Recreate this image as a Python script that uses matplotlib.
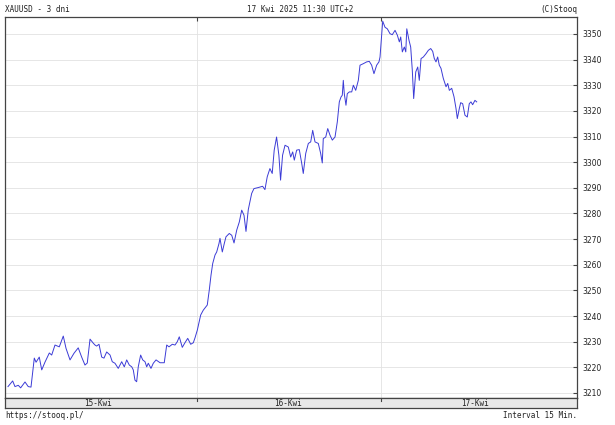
import matplotlib
matplotlib.use("Agg")
import matplotlib.pyplot as plt

# Czas w godzinach od 15 Kwi 00:00, kurs XAUUSD (interwał ~15 min)
godz_15 = [-0.65, -0.04, 0.26, 0.69, 1.0, 1.57, 1.99, 2.35, 2.78, 3.01, 3.43, 3.75, 4.17, 4.74,
           5.05, 5.48, 6.04, 6.56, 6.92, 7.44, 7.96, 8.51, 8.96, 9.39, 9.69, 10.05, 10.48,
           10.7, 10.91, 11.22, 11.57, 11.87, 12.22, 12.66, 12.95, 13.3, 13.73, 14.18, 14.52,
           14.83, 15.17, 15.49, 15.69, 15.91, 16.13, 16.34, 16.65, 16.92, 17.22, 17.44, 17.65,
           18.0, 18.3, 18.66, 19.18, 19.73, 20.05, 20.35, 20.78, 21.13, 21.43, 21.69, 22.08,
           22.43, 22.79, 23.18, 23.52, 23.74]
kurs_15 = [3212.5, 3214.7, 3212.5, 3213, 3212, 3214.3, 3212.5, 3212.3, 3223.6, 3222, 3224,
           3219, 3222, 3225.6, 3224.8, 3228.7, 3228, 3232.2, 3227.4, 3222.9, 3225.5, 3227.6,
           3224, 3220.9, 3221.7, 3231, 3229.4, 3228.7, 3228.3, 3229, 3224, 3223.6, 3226,
           3224.8, 3222.2, 3221.6, 3219.6, 3222.2, 3220.2, 3222.9, 3220.9, 3220.2, 3219, 3215,
           3214.4, 3220.2, 3224.8, 3222.9, 3222.2, 3220.2, 3221.6, 3219.6, 3221.6, 3222.9,
           3221.8, 3221.8, 3228.7, 3228, 3229, 3228.7, 3230, 3231.9, 3227.8, 3229.6, 3231.3,
           3229, 3229.6, 3231.5]

godz_16 = [24.04, 24.48, 24.82, 25.34, 25.6, 25.83, 26.05, 26.35, 26.57, 26.87, 27.0, 27.3,
           27.56, 27.78, 28.21, 28.53, 28.83, 29.18, 29.52, 29.83, 30.13, 30.39, 30.69, 31.13,
           31.43, 31.99, 32.56, 32.86, 33.16, 33.51, 33.81, 34.07, 34.38, 34.68, 34.9, 35.16,
           35.48, 35.91, 36.22, 36.48, 36.69, 37.0, 37.34, 37.66, 37.86, 38.18, 38.52, 38.83,
           39.09, 39.39, 39.82, 40.13, 40.34, 40.47, 40.79, 41.05, 41.35, 41.65, 42.0, 42.3,
           42.56, 42.78, 42.95, 43.08, 43.21, 43.43, 43.6, 43.87, 44.18, 44.39, 44.7, 45.04,
           45.26, 45.69, 46.13, 46.47, 46.78, 47.08, 47.43, 47.73, 47.87]
kurs_16 = [3234.5, 3240.4, 3242.3, 3244.3, 3250.1, 3256, 3260.5, 3263.8, 3265, 3268.3, 3270.3,
           3265, 3268.3, 3270.9, 3272.2, 3271.5, 3268.5, 3273.5, 3276.7, 3281.3, 3279.3, 3273,
           3281.5, 3287.8, 3289.7, 3290.1, 3290.6, 3289.3, 3294.3, 3297.5, 3295.6, 3304.7,
           3309.8, 3302.7, 3293, 3302.7, 3306.6, 3305.9, 3302, 3304, 3300.8, 3304.7, 3304.9,
           3299.5, 3295.6, 3303.4, 3307.3, 3307.9, 3312.4, 3307.9, 3307.3, 3303.4, 3299.7,
           3309.2, 3309.8, 3313.1, 3310.5, 3308.6, 3309.8, 3315.7, 3323.5, 3325.4, 3326.1,
           3331.9, 3326.7, 3322.2, 3326.7, 3327.4, 3327.4, 3330, 3328, 3331.9, 3337.8, 3338.4,
           3339.1, 3339.3, 3337.8, 3334.5, 3337.8, 3339.1, 3341]

godz_17 = [48.22, 48.52, 48.82, 49.17, 49.47, 49.83, 50.13, 50.39, 50.57, 50.78, 51.04, 51.23,
           51.36, 51.65, 51.87, 52.08, 52.26, 52.53, 52.79, 52.99, 53.22, 53.52, 53.87, 54.17,
           54.48, 54.74, 54.95, 55.17, 55.39, 55.6, 55.82, 56.12, 56.48, 56.7, 56.91, 57.22,
           57.52, 57.78, 57.95, 58.21, 58.39, 58.65, 58.95, 59.25, 59.51, 59.73, 59.95, 60.25,
           60.48]
kurs_17 = [3355, 3352.6, 3352, 3350.1, 3349.7, 3351.4, 3349.5, 3346.9, 3348.8, 3343, 3344.9,
           3343, 3352, 3347.5, 3344.9, 3335.8, 3324.8, 3335.2, 3337.1, 3331.9, 3340.4, 3341,
           3342.3, 3343.6, 3344.3, 3343.2, 3340.4, 3339.1, 3341, 3337.8, 3336.6, 3332.7, 3329.4,
           3330.7, 3328, 3328.8, 3325.5, 3320.9, 3317, 3320.9, 3323.2, 3322.8, 3318.3, 3317.6,
           3322.8, 3323.5, 3322.4, 3324.1, 3323.5]

dni = ["15-Kwi", "16-Kwi", "17-Kwi"]
srodki_dni = [11.1, 35.9, 60.3]
granice_dni = [24, 48]
poziomy = list(range(3210, 3360, 10))

godz = godz_15 + godz_16 + godz_17
kurs = kurs_15 + kurs_16 + kurs_17

zakres_x = (-1.04, 73.56)

fig = plt.figure(figsize=(6.15, 4.25), dpi=100)
ax = fig.add_axes([5 / 615, 27 / 425, 572 / 615, 381 / 425])
ax.plot(godz, kurs, color="#3b3bd6", lw=0.7)

ax.set_xlim(*zakres_x)
ax.set_ylim(3208.05, 3356.6)
ax.set_yticks(poziomy)
ax.yaxis.tick_right()
ax.tick_params(axis="y", direction="in", length=3, width=0.8, color="#444444",
               labelsize=5.5, pad=4, labelcolor="#222222")
ax.set_xticks(granice_dni)
ax.set_xticklabels([])
ax.tick_params(axis="x", direction="in", length=3, width=0.8, color="#444444",
               top=True, bottom=False)
ax.grid(True, color="#e2e2e2", lw=0.6)
ax.set_axisbelow(True)
for s in ax.spines.values():
    s.set_color("#444444")
    s.set_linewidth(0.9)

# pasek z datami
ax2 = fig.add_axes([5 / 615, 17 / 425, 572 / 615, 10 / 425])
ax2.set_facecolor("#e8e8e8")
ax2.set_xlim(*zakres_x)
ax2.set_ylim(0, 1)
ax2.set_xticks([])
ax2.set_yticks([])
for s in ax2.spines.values():
    s.set_color("#444444")
    s.set_linewidth(0.9)
for x, d in zip(srodki_dni, dni):
    ax2.text(x, 0.45, d, ha="center", va="center", fontsize=5.5,
             family="DejaVu Sans Mono", color="#222222")
for x in granice_dni:
    ax2.plot([x, x], [0.7, 1], color="#444444", lw=0.8)

fnt = dict(fontsize=5.5, family="DejaVu Sans Mono", color="#222222", va="center")
fig.text(5 / 615, 1 - 10 / 425, "XAUUSD - 3 dni", ha="left", **fnt)
fig.text(300 / 615, 1 - 10 / 425, "17 Kwi 2025 11:30 UTC+2", ha="center", **fnt)
fig.text(577 / 615, 1 - 10 / 425, "(C)Stooq", ha="right", **fnt)
fig.text(5 / 615, 1 - 415 / 425, "https://stooq.pl/", ha="left", **fnt)
fig.text(577 / 615, 1 - 415 / 425, "Interval 15 Min.", ha="right", **fnt)

fig.savefig("out.png", dpi=100)
